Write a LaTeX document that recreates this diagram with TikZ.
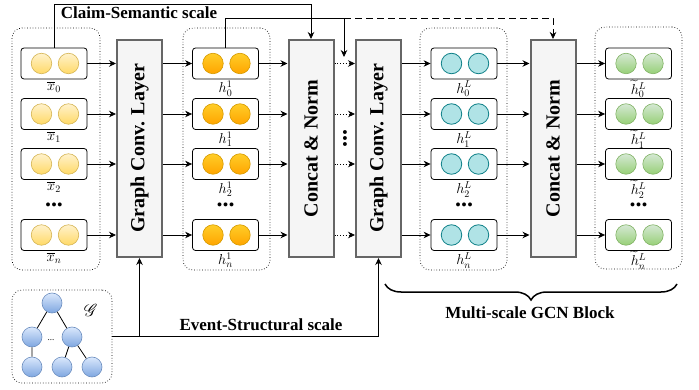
\documentclass[tikz,border=0pt]{standalone}
\usepackage{amsmath}
\usepackage{mathrsfs}
\usepackage{fontspec}
\setmainfont{Liberation Serif}
\usetikzlibrary{arrows.meta,decorations.pathreplacing,calc}
\definecolor{yS}{HTML}{D6B656}\definecolor{yT}{HTML}{FFF2CC}\definecolor{yB}{HTML}{FFD966}
\definecolor{oS}{HTML}{D79B00}\definecolor{oT}{HTML}{FFCD28}\definecolor{oB}{HTML}{FFA500}
\definecolor{tS}{HTML}{0E8088}\definecolor{tF}{HTML}{B0E3E6}
\definecolor{gS}{HTML}{82B366}\definecolor{gT}{HTML}{D5E8D4}\definecolor{gB}{HTML}{97D077}
\definecolor{bS}{HTML}{6C8EBF}\definecolor{bT}{HTML}{DAE8FC}\definecolor{bB}{HTML}{7EA6E0}
\definecolor{boxF}{HTML}{F5F5F5}\definecolor{boxS}{HTML}{666666}
\begin{document}
\begin{tikzpicture}[x=1pt,y=-1pt,
  rowbox/.style={draw, rounded corners=3pt, minimum width=66pt, minimum height=31pt, inner sep=0pt, line width=0.8pt},
  gbox/.style={draw=boxS, fill=boxF, line width=2pt, minimum width=45pt, minimum height=217pt, inner sep=0pt},
  grp/.style={draw, dotted, rounded corners=10pt, line width=0.7pt, inner sep=0pt},
  ball/.style={circle, minimum size=20.5pt, inner sep=0pt, line width=0.6pt},
  yball/.style={ball, draw=yS, top color=yT, bottom color=yB},
  oball/.style={ball, draw=oS, top color=oT, bottom color=oB},
  tball/.style={ball, draw=tS, fill=tF, line width=0.8pt},
  gball/.style={ball, draw=gS, top color=gT, bottom color=gB},
  bball/.style={ball, draw=bS, top color=bT, bottom color=bB, minimum size=20pt},
  arr/.style={-{Stealth[length=7pt,width=6.5pt]}, line width=0.8pt},
  dotarr/.style={arr, dotted},
  lbl/.style={font=\fontsize{14}{16}\selectfont, inner sep=1.5pt, anchor=north},
  slbl/.style={font=\fontsize{17}{19}\selectfont\bfseries, inner sep=0pt},
  vlbl/.style={font=\fontsize{20}{22}\selectfont\bfseries, rotate=90},
  dotsl/.style={font=\fontsize{24}{24}\selectfont\bfseries, inner sep=0pt}
]
\useasboundingbox (0,0) rectangle (699,390);

% dotted groups
\node[grp, minimum width=88pt, minimum height=242pt] (gx) at (56,149) {};
\node[grp, minimum width=87pt, minimum height=242pt] (gh) at (226.5,149) {};
\node[grp, minimum width=87pt, minimum height=242pt] (ghL) at (463.5,149) {};
\node[grp, minimum width=87pt, minimum height=242pt] (ght) at (638.5,148) {};
\node[grp, minimum width=100pt, minimum height=93pt] (gG) at (62,336.5) {};

% gray blocks
\node[gbox] (g1) at (139.5,148.5) {};
\node[vlbl] (g1t) at (g1) {Graph Conv. Layer};
\node[gbox] (c1) at (311,148.5) {};
\node[vlbl] (c1t) at (c1) {Concat \& Norm};
\node[gbox] (g2) at (378.5,148.5) {};
\node[vlbl] (g2t) at (g2) {Graph Conv. Layer};
\node[gbox] (c2) at (553,148.5) {};
\node[vlbl] (c2t) at (c2) {Concat \& Norm};

% rows
\foreach \i/\y in {0/63.5,1/114,2/164,n/235}{
  \node[rowbox] (x\i) at (54,\y) {};
  \node[yball] (x\i a) at (41.5,\y) {};
  \node[yball] (x\i b) at (68.5,\y) {};
  \node[lbl] (lx\i) at (x\i.south) {$\overline{x}_{\i}$};
  \node[rowbox] (h\i) at (225.5,\y) {};
  \node[oball] (h\i a) at (213,\y) {};
  \node[oball] (h\i b) at (240,\y) {};
  \node[lbl] (lh\i) at (h\i.south) {$h^{1}_{\i}$};
  \node[rowbox] (hL\i) at (464,\y) {};
  \node[tball] (hL\i a) at (451.5,\y) {};
  \node[tball] (hL\i b) at (478.5,\y) {};
  \node[lbl] (lhL\i) at (hL\i.south) {$h^{L}_{\i}$};
  \node[rowbox] (ht\i) at (638.5,\y) {};
  \node[gball] (ht\i a) at (626,\y) {};
  \node[gball] (ht\i b) at (653,\y) {};
  \node[lbl, inner sep=0.5pt] (lht\i) at (ht\i.south) {$\widetilde{h}^{L}_{\i}$};
  \draw[arr] (x\i.east) -- (x\i.east -| g1.west);
  \draw[arr] (h\i.west -| g1.east) -- (h\i.west);
  \draw[arr] (h\i.east) -- (h\i.east -| c1.west);
  \draw[dotarr] (c1.east |- h\i) -- (g2.west |- h\i);
  \draw[arr] (hL\i.west -| g2.east) -- (hL\i.west);
  \draw[arr] (hL\i.east) -- (hL\i.east -| c2.west);
  \draw[arr] (ht\i.west -| c2.east) -- (ht\i.west);
}

% dots
\node[dotsl] (d1) at (54,205) {...};
\node[dotsl] (d2) at (225.5,205) {...};
\node[dotsl] (d3) at (464,205) {...};
\node[dotsl] (d4) at (638.5,205) {...};
\node[dotsl, rotate=90] (d5) at (345,139) {...};

% claim-semantic scale
\coordinate (cs) at (54,4);
\coordinate (ct) at (226,18);
\coordinate (tip) at (344,57);
\draw[arr] (x0.north) |- (c1.north |- cs) -- (c1.north);
\draw[arr] (h0.north) |- (tip |- ct) -- (tip);
\draw[arr, dash pattern=on 7pt off 4pt] (tip |- ct) -| (c2.north);
\node[slbl] (cst) at (139,13) {Claim-Semantic scale};

% graph G
\node[bball] (t0) at (52,303) {};
\node[bball] (t1) at (32,337) {};
\node[bball] (t2) at (72,337) {};
\node[bball] (t3) at (32,367) {};
\node[bball] (t4) at (62,367) {};
\node[bball] (t5) at (92,367) {};
\draw[line width=0.8pt] (t0) -- (t1) (t0) -- (t2) (t1) -- (t3) (t2) -- (t4) (t2) -- (t5);
\node[font=\fontsize{9}{9}\selectfont, inner sep=0pt] (tdots) at (51,340) {...};
\node[font=\fontsize{16}{16}\selectfont, inner sep=0pt] (Gl) at (91,310) {$\mathscr{G}$};

% event-structural scale
\draw[line width=0.8pt] (gG.east) -- (gG.east -| g2.south);
\draw[arr] (gG.east -| g1.south) -- (g1.south);
\draw[arr] (gG.east -| g2.south) -- (g2.south);
\node[slbl] (est) at (261,325) {Event-Structural scale};

% brace
\draw[decorate, decoration={brace, mirror, amplitude=16pt}, line width=1.5pt] (385,284) coordinate (b1) -- (677,284) coordinate (b2);
\node[slbl] (mst) at (530,313) {Multi-scale GCN Block};
\end{tikzpicture}
\end{document}
